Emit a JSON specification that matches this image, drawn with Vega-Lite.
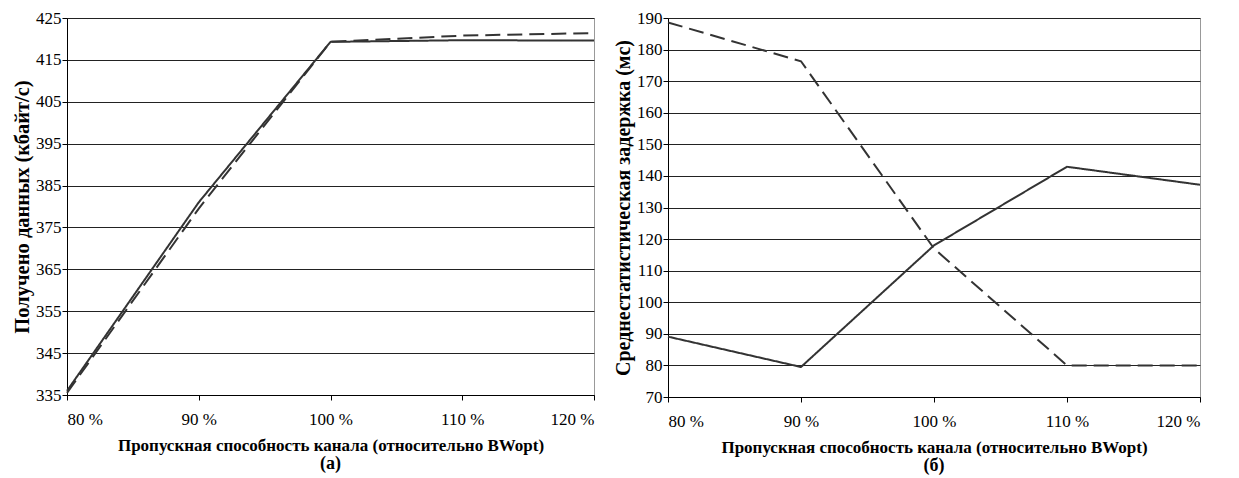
{
  "$schema": "https://vega.github.io/schema/vega-lite/v6.json",
  "padding": {"left": 12, "top": 8, "right": 5, "bottom": 0},
  "spacing": 14,
  "config": {
    "font": "Liberation Serif",
    "view": {"stroke": "#999999", "strokeWidth": 1},
    "axis": {
      "labelFont": "Liberation Serif",
      "labelFontSize": 17,
      "labelColor": "#000000",
      "titleFont": "Liberation Serif",
      "titleFontWeight": "bold",
      "titleColor": "#000000",
      "domainColor": "#000000",
      "tickColor": "#000000",
      "gridColor": "#222222",
      "gridOpacity": 1
    },
    "title": {"font": "Liberation Serif", "fontSize": 18, "fontWeight": "bold", "color": "#000000"}
  },
  "hconcat": [
    {
      "width": 527,
      "height": 377,
      "title": {"text": "(а)", "orient": "bottom", "anchor": "middle", "offset": 2},
      "data": {"values": [
        {"bw": 80, "v": 336.0, "s": "solid"},
        {"bw": 90, "v": 381.0, "s": "solid"},
        {"bw": 100, "v": 419.3, "s": "solid"},
        {"bw": 110, "v": 419.7, "s": "solid"},
        {"bw": 120, "v": 419.6, "s": "solid"},
        {"bw": 80, "v": 335.5, "s": "dashed"},
        {"bw": 90, "v": 379.5, "s": "dashed"},
        {"bw": 100, "v": 419.3, "s": "dashed"},
        {"bw": 110, "v": 420.8, "s": "dashed"},
        {"bw": 120, "v": 421.4, "s": "dashed"}
      ]},
      "mark": {"type": "line", "color": "#333333", "strokeWidth": 2},
      "encoding": {
        "x": {"field": "bw", "type": "quantitative", "scale": {"domain": [80, 120], "nice": false},
          "axis": {"values": [80, 90, 100, 110, 120], "labelExpr": "datum.value + ' %'", "grid": false, "tickSize": 5, "labelPadding": 11,
            "title": "Пропускная способность канала (относительно BWopt)", "titleFontSize": 17, "titlePadding": 10}},
        "y": {"field": "v", "type": "quantitative", "scale": {"domain": [335, 425], "nice": false, "zero": false},
          "axis": {"values": [335, 345, 355, 365, 375, 385, 395, 405, 415, 425], "tickSize": 5, "labelPadding": 1,
            "title": "Получено данных (кбайт/с)", "titleFontSize": 20.5, "titlePadding": 3}},
        "strokeDash": {"field": "s", "type": "nominal", "scale": {"domain": ["solid", "dashed"], "range": [[1, 0], [15, 7]]}, "legend": null},
        "detail": {"field": "s"}
      }
    },
    {
      "width": 532,
      "height": 379,
      "title": {"text": "(б)", "orient": "bottom", "anchor": "middle", "offset": 2},
      "data": {"values": [
        {"bw": 80, "v": 89.1, "s": "solid"},
        {"bw": 90, "v": 79.5, "s": "solid"},
        {"bw": 100, "v": 118.0, "s": "solid"},
        {"bw": 110, "v": 142.9, "s": "solid"},
        {"bw": 120, "v": 137.2, "s": "solid"},
        {"bw": 80, "v": 188.6, "s": "dashed"},
        {"bw": 90, "v": 176.3, "s": "dashed"},
        {"bw": 100, "v": 117.0, "s": "dashed"},
        {"bw": 110, "v": 80.0, "s": "dashed"},
        {"bw": 120, "v": 80.0, "s": "dashed"}
      ]},
      "mark": {"type": "line", "color": "#333333", "strokeWidth": 2},
      "encoding": {
        "x": {"field": "bw", "type": "quantitative", "scale": {"domain": [80, 120], "nice": false},
          "axis": {"values": [80, 90, 100, 110, 120], "labelExpr": "datum.value + ' %'", "grid": false, "tickSize": 5, "labelPadding": 11,
            "title": "Пропускная способность канала (относительно BWopt)", "titleFontSize": 17, "titlePadding": 10}},
        "y": {"field": "v", "type": "quantitative", "scale": {"domain": [70, 190], "nice": false, "zero": false},
          "axis": {"values": [70, 80, 90, 100, 110, 120, 130, 140, 150, 160, 170, 180, 190], "tickSize": 5, "labelPadding": 1,
            "title": "Среднестатистическая задержка (мс)", "titleFontSize": 20, "titlePadding": 3}},
        "strokeDash": {"field": "s", "type": "nominal", "scale": {"domain": ["solid", "dashed"], "range": [[1, 0], [15, 7]]}, "legend": null},
        "detail": {"field": "s"}
      }
    }
  ]
}
